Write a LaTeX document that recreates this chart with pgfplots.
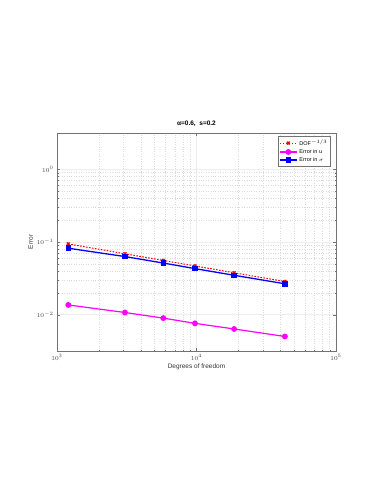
\documentclass[border=0pt]{standalone}
\usepackage{pgfplots}
\pgfplotsset{compat=1.18}
\usepackage{fontspec}
\setmainfont{Liberation Sans}
\definecolor{mred}{RGB}{255,0,0}
\definecolor{mmag}{RGB}{255,0,255}
\definecolor{mblue}{RGB}{0,0,255}
\begin{document}
\begin{tikzpicture}[x=1pt,y=1pt]
\useasboundingbox (0,0) rectangle (382,494);
\begin{axis}[
    at={(57pt,143pt)}, anchor=south west,
    scale only axis,
    width=279pt, height=218pt,
    xmode=log, ymode=log,
    xmin=1e3, xmax=1e5,
    ymin=0.00316, ymax=3.16,
    ytick={0.01,0.1,1},
    xtick={1e3,1e4,1e5},
    grid=both,
    major grid style={black!7, line width=0.5pt},
    minor grid style={black!14, dotted, line width=0.4pt},
    tick align=inside,
    axis line style={black!55, line width=0.4pt},
    major tick length=3pt, minor tick length=1.5pt,
    tick style={black!55},
    ticklabel style={font=\fontsize{6}{7}\selectfont, text=black!75},
    xlabel={Degrees of freedom},
    ylabel={Error},
    label style={font=\fontsize{6.5}{7}\selectfont, text=black!80},
    xlabel style={yshift=3pt},
    ylabel style={yshift=-3pt},
    title={\bfseries α=0.6,\ \ s=0.2},
    title style={font=\fontsize{6.5}{7}\selectfont, yshift=-3pt},
    legend style={at={(0.98,0.985)}, anchor=north east,
        font=\fontsize{5.5}{6}\selectfont, draw=black!55,
        inner sep=1pt, row sep=-1.5pt, legend cell align=left},
]
\addplot[mred, dash pattern=on 1.6pt off 1.4pt, line width=1pt, mark=x, mark options={solid, mred, line width=1.4pt}, mark size=2pt]
    coordinates {(1205,0.0940) (3070,0.0688) (5780,0.0557) (9750,0.0468) (18600,0.0377) (43000,0.0286)};
\addlegendentry{DOF$^{-1/3}$}
\addplot[mmag, line width=1.2pt, mark=*, mark size=2.3pt]
    coordinates {(1205,0.0136) (3070,0.0107) (5780,0.00896) (9750,0.00759) (18600,0.00635) (43000,0.00501)};
\addlegendentry{Error in u}
\addplot[mblue, line width=1.3pt, mark=square*, mark size=2.1pt]
    coordinates {(1205,0.0820) (3070,0.0630) (5780,0.0513) (9750,0.0430) (18600,0.0348) (43000,0.0266)};
\addlegendentry{Error in $\sigma$}
\end{axis}
\end{tikzpicture}
\end{document}
